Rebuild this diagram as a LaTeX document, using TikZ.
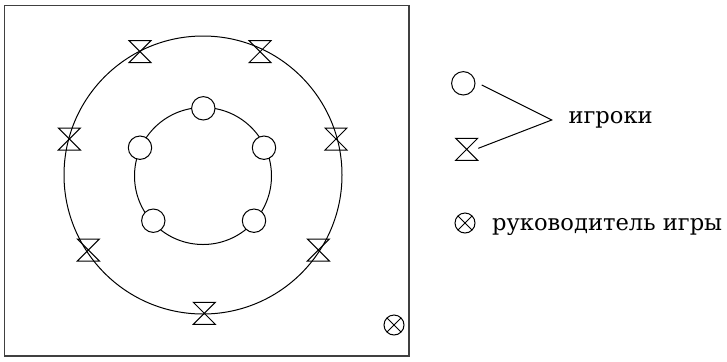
\documentclass[tikz,border=0pt]{standalone}
\usepackage{fontspec}
\setmainfont{DejaVu Serif}
\begin{document}
\begin{tikzpicture}[x=1bp,y=-1bp,
  line width=1bp,
  player/.style={circle,draw,fill=white,minimum size=23.4bp,inner sep=0pt},
  hglass/.style={rectangle,draw=none,minimum width=21bp,minimum height=21bp,inner sep=0pt},
  leader/.style={circle,draw,minimum size=20bp,inner sep=0pt,
    path picture={\draw (path picture bounding box.north west) -- (path picture bounding box.south east)
                        (path picture bounding box.north east) -- (path picture bounding box.south west);}},
  caption/.style={anchor=base west,inner sep=0pt,font=\fontsize{22.7}{26}\selectfont}]
  \useasboundingbox (0,0) rectangle (727,361);

  % field border
  \draw[line width=1.5bp,black!75] (4.5,5.5) rectangle (409,356);

  % outer and inner rings
  \draw (203,175) circle[radius=139];
  \draw (203,176) circle[radius=68.5];

  % players on the inner ring
  \node[player] (p1) at (203.3,108.3) {};
  \node[player] (p2) at (140,147.7) {};
  \node[player] (p3) at (264,147.7) {};
  \node[player] (p4) at (153.3,220.7) {};
  \node[player] (p5) at (254,220.7) {};

  % players on the outer ring
  \node[hglass] (h1) at (140,51.7) {};
  \node[hglass] (h2) at (260,51.7) {};
  \node[hglass] (h3) at (69.3,139) {};
  \node[hglass] (h4) at (336,139) {};
  \node[hglass] (h5) at (88.3,250) {};
  \node[hglass] (h6) at (318.3,250) {};
  \node[hglass] (h7) at (204.3,313.3) {};

  % game leader
  \node[leader] (g1) at (394,325) {};

  % legend
  \node[player] (lp) at (463.3,83.3) {};
  \node[hglass] (lh) at (466.7,149.3) {};
  \node[leader] (lg) at (465,223) {};
  \coordinate (apex) at (551.7,120);
  \coordinate (fromp) at (481.7,85);
  \coordinate (fromh) at (478.3,148.3);
  \draw (fromp) -- (apex) -- (fromh);
  \node[caption] (t1) at (568,123.3) {игроки};
  \node[caption] (t2) at (491.7,230) {руководитель игры};

  % hourglass symbols
  \foreach \n in {h1,h2,h3,h4,h5,h6,h7,lh}
    \draw (\n.north west) -- (\n.north east) -- (\n.south west) -- (\n.south east) -- cycle;
\end{tikzpicture}
\end{document}
